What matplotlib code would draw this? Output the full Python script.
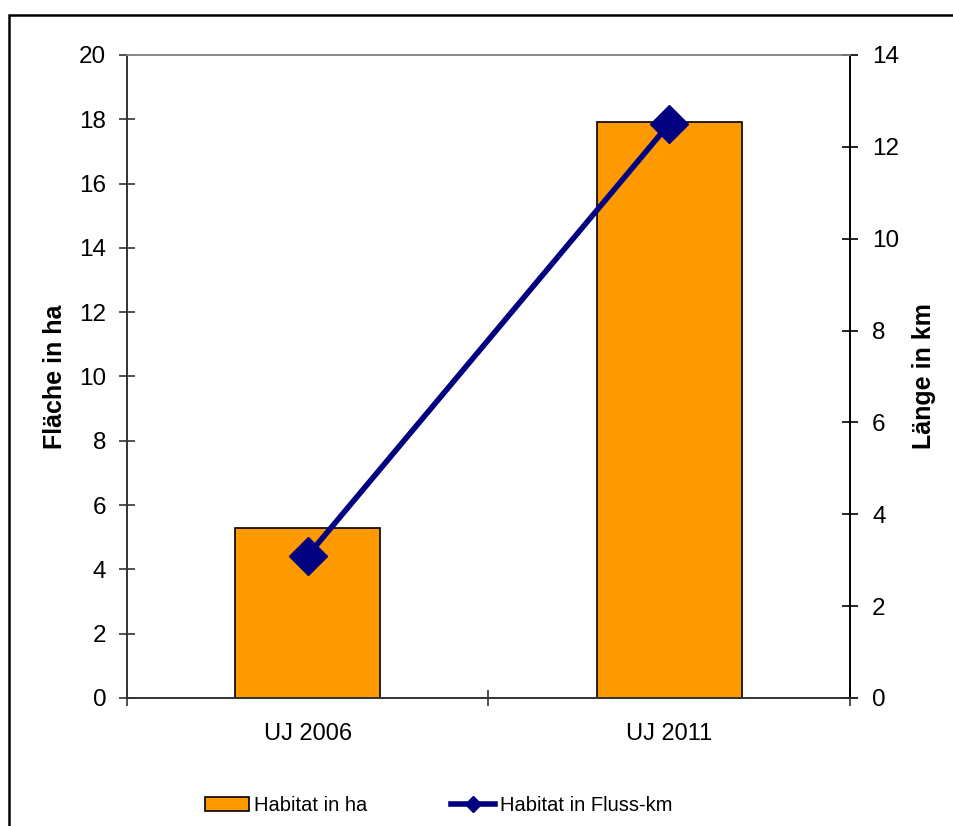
import matplotlib.pyplot as plt
import matplotlib.ticker as ticker
from matplotlib.patches import Patch, Rectangle
from matplotlib.lines import Line2D
import numpy as np

# Data
categories = ["UJ 2006", "UJ 2011"]
habitat_ha = [5.3, 17.9]        # bars, left axis
habitat_km = [3.1, 12.5]        # line, right axis

bar_color = "#FF9900"
line_color = "#000080"

plt.rcParams["font.family"] = ["Liberation Sans", "DejaVu Sans"]

fig = plt.figure(figsize=(9.54, 8.26), dpi=100)
ax1 = fig.add_axes([0.1331, 0.1550, 0.7579, 0.7785])
ax2 = ax1.twinx()

x = np.arange(len(categories))
ax1.bar(x, habitat_ha, width=0.4, color=bar_color, edgecolor="black", linewidth=1.2, zorder=2)
ax2.plot(x, habitat_km, color=line_color, lw=4, marker="D", markersize=19,
         markerfacecolor=line_color, markeredgecolor=line_color, zorder=3)

# left axis
ax1.set_xlim(-0.5, 1.5)
ax1.set_ylim(0, 20)
ax1.yaxis.set_major_locator(ticker.MultipleLocator(2))
ax1.set_ylabel("Fläche in ha", fontsize=18, fontweight="bold", labelpad=9)

# right axis
ax2.set_ylim(0, 14)
ax2.yaxis.set_major_locator(ticker.MultipleLocator(2))
ax2.set_ylabel("Länge in km", fontsize=18, fontweight="bold", labelpad=9)

# x axis: ticks between categories, labels at category centres
ax1.xaxis.set_major_locator(ticker.FixedLocator([-0.5, 0.5, 1.5]))
ax1.xaxis.set_major_formatter(ticker.NullFormatter())
ax1.xaxis.set_minor_locator(ticker.FixedLocator(x))
ax1.xaxis.set_minor_formatter(ticker.FixedFormatter(categories))
ax1.tick_params(axis="x", which="minor", length=0, labelsize=17, pad=18)
ax1.tick_params(axis="x", which="major", direction="inout", length=12, width=1.2, color="#333333")
ax1.tick_params(axis="y", direction="inout", length=12, width=1.2, labelsize=17.5, pad=9, color="#333333")
ax2.tick_params(axis="y", direction="inout", length=12, width=1.2, labelsize=17.5, pad=10, color="black")

for ax in (ax1, ax2):
    ax.spines["top"].set_color("#888888")
    ax.spines["left"].set_color("#333333")
    ax.spines["bottom"].set_color("#333333")
    ax.spines["right"].set_color("black")
    for s in ax.spines.values():
        s.set_linewidth(1.2)

# legend
handles = [
    Patch(facecolor=bar_color, edgecolor="black", linewidth=1.2, label="Habitat in ha"),
    Line2D([0], [0], color=line_color, lw=4, marker="D", markersize=8, label="Habitat in Fluss-km"),
]
fig.legend(handles=handles, loc="center", bbox_to_anchor=(0.46, 0.025), ncol=2, frameon=False,
           fontsize=14.5, handlelength=2.2, handletextpad=0.25, columnspacing=4.15)

# outer chart border (clipped at right and bottom in the reference)
fig.patches.append(Rectangle((9.5 / 954, -0.1), 2.0, 1.1 - 14.5 / 826, transform=fig.transFigure,
                             fill=False, edgecolor="black", linewidth=1.8))

fig.savefig("out.png", dpi=100)
